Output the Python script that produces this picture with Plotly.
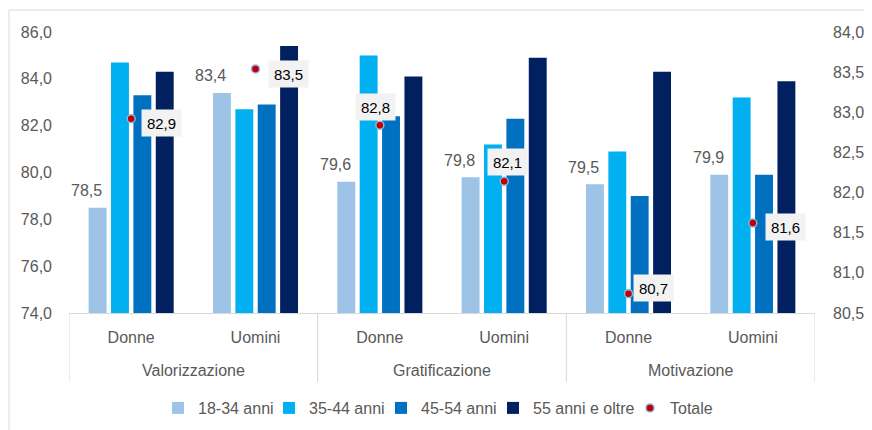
import plotly.graph_objects as go
import numpy as np

# ---- data ----
groups = ["Valorizzazione", "Valorizzazione", "Gratificazione", "Gratificazione", "Motivazione", "Motivazione"]
subcats = ["Donne", "Uomini", "Donne", "Uomini", "Donne", "Uomini"]
series_names = ["18-34 anni", "35-44 anni", "45-54 anni", "55 anni e oltre"]
v_18_34 = [78.5, 83.4, 79.6, 79.8, 79.5, 79.9]
v_35_44 = [84.7, 82.7, 85.0, 81.2, 80.9, 83.2]
v_45_54 = [83.3, 82.9, 82.4, 82.3, 79.0, 79.9]
v_55_plus = [84.3, 85.4, 84.1, 84.9, 84.3, 83.9]
totale = [82.92, 83.54, 82.84, 82.14, 80.74, 81.62]
left_ticks = [74, 76, 78, 80, 82, 84, 86]
right_ticks = [80.5, 81.0, 81.5, 82.0, 82.5, 83.0, 83.5, 84.0]

# ---- styles ----
colors = ["#9DC3E6", "#00B0F0", "#0070C0", "#002060"]
gray = "#595959"
line_gray = "#D9D9D9"
font_family = "Liberation Sans, Arial, sans-serif"
tot_label_shift = [(30, -4), (33, -5), (-4, 18), (3, 19), (25, 6), (33, -4)]
legend_left_px = [158, 269, 381, 493, 630]   # page x of each legend box
bargap = 0.28
bargroupgap = 0.2

# page body has an 8px margin; keep figure 872x430 and shift the plot area up-left by 8px
PAGE_OFF = 8
W, H = 872, 430
ML, MT = 69 - PAGE_OFF, 32 - PAGE_OFF
PW, PH = 746, 281
MR, MB = W - ML - PW, H - MT - PH

x = np.arange(len(subcats))
all_series = [v_18_34, v_35_44, v_45_54, v_55_plus]

legend_names = ["legend", "legend2", "legend3", "legend4", "legend5"]

fig = go.Figure()
for i, (name, vals, col) in enumerate(zip(series_names, all_series, colors)):
    fig.add_trace(go.Bar(x=x, y=vals, name=name, marker=dict(color=col, line=dict(width=0)),
                         hoverinfo="y", legend=legend_names[i]))

fig.add_trace(go.Scatter(x=x, y=totale, name="Totale", yaxis="y2", mode="markers",
                         legend=legend_names[4],
                         marker=dict(color="#C00000", size=8, line=dict(color="#8DB4E2", width=1.5))))

annotations = []
slot = (1 - bargap) / len(all_series)
first_off = -(1 - bargap) / 2 + slot / 2
for xi, v in zip(x, v_18_34):
    annotations.append(dict(x=xi + first_off, y=v, xref="x", yref="y", text=f"{v:.1f}".replace(".", ","),
                            showarrow=False, xshift=-11, yshift=17, yanchor="middle",
                            font=dict(size=16, color=gray, family=font_family)))
for xi, v, (dx, dy) in zip(x, totale, tot_label_shift):
    annotations.append(dict(x=xi, y=v, xref="x", yref="y2", text=f"{v:.1f}".replace(".", ","),
                            showarrow=False, xshift=dx, yshift=dy, yanchor="middle",
                            bgcolor="#F2F2F2", borderpad=4, width=31, height=18,
                            font=dict(size=15, color="#000000", family=font_family)))

shapes = []
uniq = []
for g in groups:
    if g not in uniq:
        uniq.append(g)
bounds = [-0.5]
for g in uniq:
    idx = [i for i, gg in enumerate(groups) if gg == g]
    annotations.append(dict(x=float(np.mean(idx)), y=-(370 - 313) / PH, xref="x", yref="paper", text=g,
                            showarrow=False, yanchor="middle",
                            font=dict(size=16, color=gray, family=font_family)))
    bounds.append(max(idx) + 0.5)
for b in bounds:
    shapes.append(dict(type="line", xref="x", yref="paper", x0=b, x1=b, y0=0, y1=-(382 - 313) / PH,
                       line=dict(color=line_gray, width=1)))
fx = (9 - 69) / PW
fy = (313 - 10) / PH
shapes.append(dict(type="line", xref="paper", yref="paper", x0=fx, x1=fx, y0=-0.45, y1=fy,
                   line=dict(color=line_gray, width=1)))
shapes.append(dict(type="line", xref="paper", yref="paper", x0=fx, x1=1.1, y0=fy, y1=fy,
                   line=dict(color=line_gray, width=1)))

layout_legends = {}
for ln, px in zip(legend_names, legend_left_px):
    layout_legends[ln] = dict(orientation="h", x=(px - 69) / PW, xanchor="left",
                              y=-(408 - 313) / PH, yanchor="middle", bgcolor="rgba(0,0,0,0)",
                              font=dict(size=16, color=gray, family=font_family))

fig.update_layout(
    width=W, height=H,
    margin=dict(l=ML, r=MR, t=MT, b=MB),
    paper_bgcolor="white", plot_bgcolor="white",
    separators=", ",
    barmode="group", bargap=bargap, bargroupgap=bargroupgap,
    font=dict(family=font_family, size=16, color=gray),
    xaxis=dict(range=[-0.5, len(subcats) - 0.5], tickvals=list(x), ticktext=subcats,
               showline=True, linecolor=line_gray, linewidth=1, showgrid=False, zeroline=False,
               ticks="", ticklabelstandoff=10, tickfont=dict(size=16, color=gray)),
    yaxis=dict(range=[74, 86], tickvals=left_ticks, tickformat=".1f", showgrid=False, zeroline=False,
               showline=False, ticks="", ticklabelstandoff=16, tickfont=dict(size=16, color=gray)),
    yaxis2=dict(range=[80.5, 84.0], tickvals=right_ticks, tickformat=".1f", overlaying="y", side="right",
                showgrid=False, zeroline=False, showline=False, ticks="", ticklabelstandoff=17,
                tickfont=dict(size=16, color=gray)),
    annotations=annotations,
    shapes=shapes,
    showlegend=True,
    **layout_legends,
)

fig.write_html("out.html")
